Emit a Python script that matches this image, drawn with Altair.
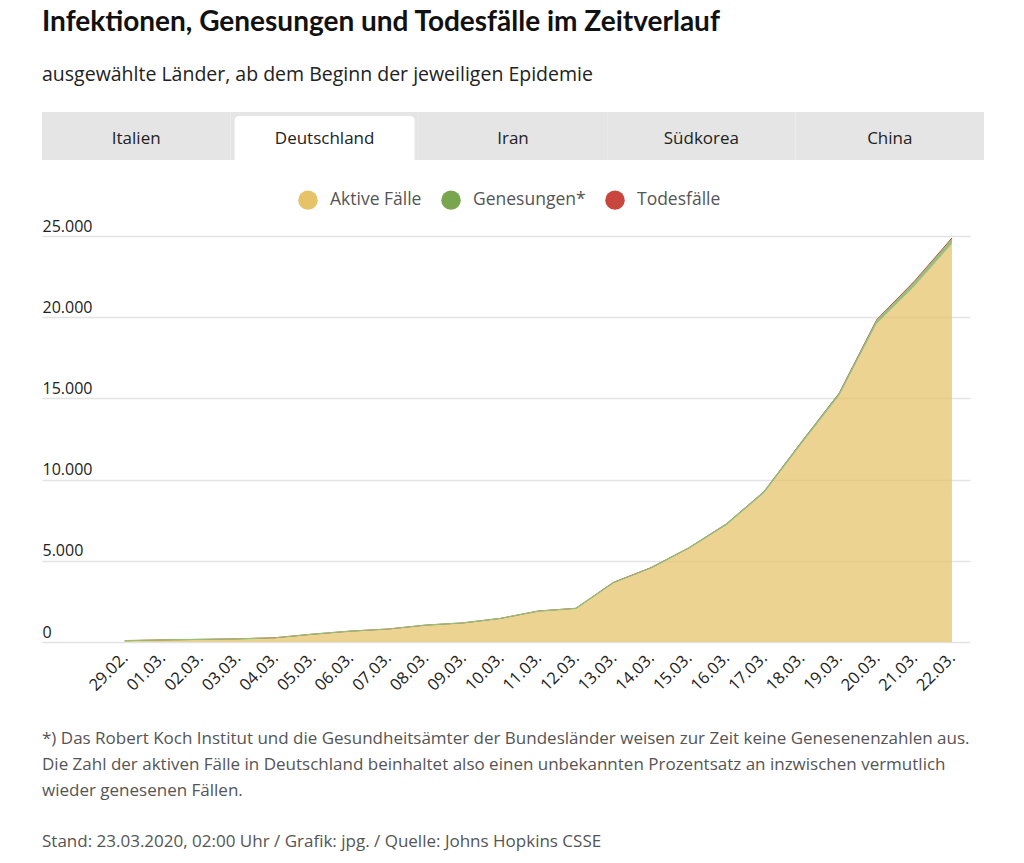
import altair as alt
import pandas as pd

# ---- data (Deutschland, JHU CSSE) ----
dates = ["29.02.", "01.03.", "02.03.", "03.03.", "04.03.", "05.03.", "06.03.", "07.03.",
         "08.03.", "09.03.", "10.03.", "11.03.", "12.03.", "13.03.", "14.03.", "15.03.",
         "16.03.", "17.03.", "18.03.", "19.03.", "20.03.", "21.03.", "22.03."]
confirmed = [79, 130, 159, 196, 262, 482, 670, 799, 1040, 1176, 1457, 1908, 2078, 3675,
             4585, 5795, 7272, 9257, 12327, 15320, 19848, 22213, 24873]
recovered = [16, 16, 16, 16, 16, 16, 17, 18, 18, 18, 18, 25, 25, 46, 46, 46, 67, 67,
             105, 113, 180, 233, 266]
deaths = [0, 0, 0, 0, 0, 0, 0, 0, 0, 2, 2, 3, 3, 7, 9, 11, 17, 24, 28, 44, 67, 84, 94]

series = ["Aktive Fälle", "Genesungen*", "Todesfälle"]
colors = ["#e6c268", "#79a54e", "#c8463e"]
tabs = ["Italien", "Deutschland", "Iran", "Südkorea", "China"]
active_tab = "Deutschland"
y_ticks = [0, 5000, 10000, 15000, 20000, 25000]

title = "Infektionen, Genesungen und Todesfälle im Zeitverlauf"
subtitle = "ausgewählte Länder, ab dem Beginn der jeweiligen Epidemie"
footnote = [
    "*) Das Robert Koch Institut und die Gesundheitsämter der Bundesländer weisen zur Zeit keine Genesenenzahlen aus.",
    "Die Zahl der aktiven Fälle in Deutschland beinhaltet also einen unbekannten Prozentsatz an inzwischen vermutlich",
    "wieder genesenen Fällen.",
]
source = "Stand: 23.03.2020, 02:00 Uhr / Grafik: jpg. / Quelle: Johns Hopkins CSSE"

FONT = "Open Sans"

# ---- build tables ----
rows = []
lines = []
for i, d in enumerate(dates):
    active = confirmed[i] - recovered[i] - deaths[i]
    bounds = [0, active, active + recovered[i], confirmed[i]]
    for k, s in enumerate(series):
        rows.append({"i": i, "date": d, "series": s, "k": k, "y0": bounds[k], "y1": bounds[k + 1]})
    lines.append({"i": i, "rec_top": active + recovered[i], "total": confirmed[i]})
df = pd.DataFrame(rows)
dl = pd.DataFrame(lines)

label_js = "[" + ",".join("'" + d + "'" for d in dates) + "]"

xscale = alt.Scale(domain=[-2.2, len(dates) - 0.52], nice=False, zero=False)
yscale = alt.Scale(domain=[0, 25000], nice=False)

x_enc = alt.X("i:Q", scale=xscale, title=None,
              axis=alt.Axis(values=list(range(len(dates))), labelExpr=label_js + "[datum.value]",
                            labelAngle=-45, labelAlign="right", labelBaseline="middle",
                            labelFontSize=16.5, labelColor="#222", labelPadding=13,
                            labelOverlap=False, labelBound=False,
                            ticks=False, domain=False, grid=False, labelFont=FONT))

area = alt.Chart(df).mark_area(opacity=0.72).encode(
    x=x_enc,
    y=alt.Y("y1:Q", scale=yscale, title=None, stack=None,
            axis=alt.Axis(values=y_ticks, labelAlign="left", labelBaseline="alphabetic",
                          labelOffset=-5, labelPadding=0, ticks=False, domain=False,
                          labelFontSize=16, labelColor="#222", labelFont=FONT,
                          gridColor="#e3e3e3", gridWidth=1.5,
                          labelExpr="replace(format(datum.value, ','), ',', '.')")),
    y2="y0:Q",
    color=alt.Color("series:N", scale=alt.Scale(domain=series, range=colors),
                    legend=alt.Legend(title=None, orient="none", direction="horizontal",
                                      legendX=256, legendY=78, symbolType="circle",
                                      symbolSize=380, symbolOpacity=1, symbolStrokeWidth=0,
                                      labelFontSize=17.5, labelColor="#555", labelFont=FONT,
                                      labelOffset=12, columnPadding=19)),
    order=alt.Order("k:Q"),
)

red_line = alt.Chart(dl).mark_line(color=colors[2], strokeWidth=1.0).encode(
    x=alt.X("i:Q", scale=xscale), y=alt.Y("total:Q", scale=yscale))
green_line = alt.Chart(dl).mark_line(color="#93c07a", strokeWidth=1.2).encode(
    x=alt.X("i:Q", scale=xscale), y=alt.Y("rec_top:Q", scale=yscale))

main = alt.layer(area, red_line, green_line).properties(
    width=928, height=406,
    title=alt.TitleParams(text=footnote, subtitle=source, orient="bottom", anchor="start",
                          font=FONT, fontSize=17, fontWeight="normal", color="#555",
                          lineHeight=26, subtitleFont=FONT, subtitleFontSize=17,
                          subtitleColor="#555", subtitlePadding=34, offset=37),
)

# ---- tabs ----
tdf = pd.DataFrame({"tab": tabs, "sel": [t == active_tab for t in tabs]})
tx = alt.X("tab:N", sort=tabs, axis=None, scale=alt.Scale(paddingInner=0, paddingOuter=0))
tab_bg = alt.Chart(tdf).mark_bar(color="#e5e5e5", cornerRadius=0).encode(
    x=tx, y=alt.value(0), y2=alt.value(48))
tab_sel = alt.Chart(tdf).transform_filter("datum.sel").mark_bar(
    color="white", width=alt.RelativeBandSize(0.955), cornerRadiusTopLeft=4,
    cornerRadiusTopRight=4).encode(x=tx, y=alt.value(4), y2=alt.value(48))
tab_txt = alt.Chart(tdf).mark_text(font=FONT, fontSize=17, color="#222", baseline="middle").encode(
    x=tx, y=alt.value(27), text="tab:N")
tab_chart = alt.layer(tab_bg, tab_sel, tab_txt).properties(width=942, height=48)

chart = alt.vconcat(tab_chart, main, spacing=58).properties(
    title=alt.TitleParams(text=title, subtitle=subtitle, anchor="start", font="Lato",
                          fontSize=28, fontWeight="bold", color="#111",
                          subtitleFont=FONT, subtitleFontSize=19.5, subtitleColor="#222",
                          subtitlePadding=29, offset=28),
    padding={"left": 42, "top": 8, "right": 30, "bottom": 10},
).configure_view(stroke=None).configure_concat(spacing=58)

chart.save("out.html", embed_options={"renderer": "svg", "actions": False})
